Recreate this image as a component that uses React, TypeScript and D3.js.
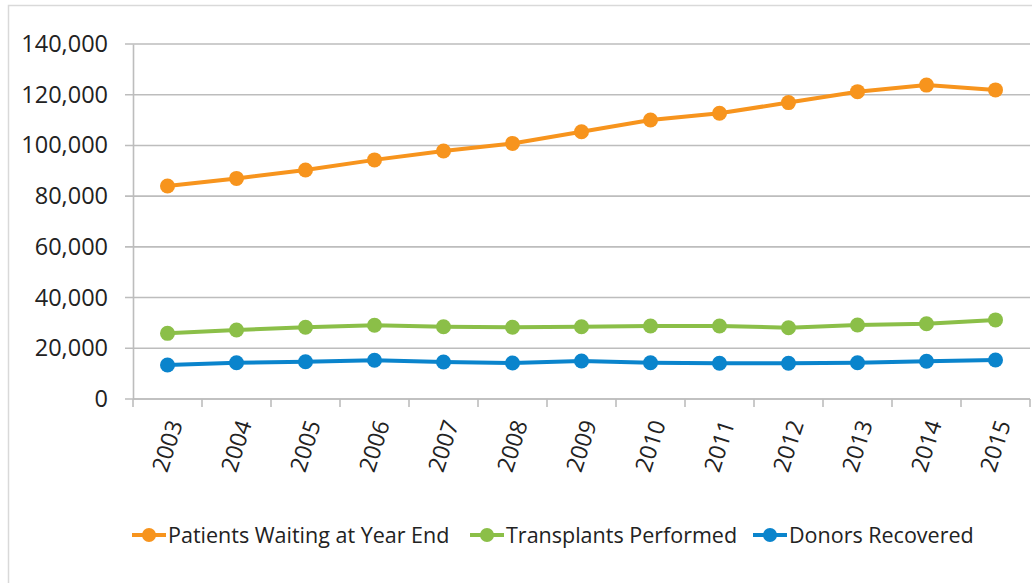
import React, { useEffect, useRef } from 'react'
import { select, scaleBand, scaleLinear, axisLeft, axisBottom, line } from 'd3'

const years = ['2003', '2004', '2005', '2006', '2007', '2008', '2009', '2010', '2011', '2012', '2013', '2014', '2015']
const waiting = [84000, 87000, 90300, 94300, 97800, 100800, 105400, 110000, 112700, 116900, 121200, 123800, 121900]
const transplants = [25900, 27200, 28300, 29100, 28500, 28300, 28500, 28800, 28800, 28100, 29200, 29700, 31200]
const donors = [13400, 14300, 14700, 15300, 14600, 14200, 15000, 14300, 14100, 14100, 14300, 14900, 15400]
const seriesNames = ['Patients Waiting at Year End', 'Transplants Performed', 'Donors Recovered']
const yTicks = [0, 20000, 40000, 60000, 80000, 100000, 120000, 140000]

const colors = ['#f7941d', '#8bbf48', '#0a84cc']
const font = '"Open Sans", Ubuntu, sans-serif'

function App() {
    const ref = useRef(null)

    useEffect(() => {
        const W = 1032, H = 583
        const margin = { top: 44, right: 2, bottom: 184, left: 133 }
        const svg = select(ref.current)
        svg.selectAll('*').remove()

        // frame
        svg.append('rect')
            .attr('x', 8.5).attr('y', 5.5)
            .attr('width', W).attr('height', H)
            .attr('fill', 'white')
            .attr('stroke', '#d9d9d9')
            .attr('stroke-width', 1.5)

        const g = svg.append('g')
            .attr('transform', `translate(${margin.left},${margin.top})`)
        const width = W - margin.left - margin.right
        const height = H - margin.top - margin.bottom

        const x = scaleBand().domain(years).range([0, width])
        const y = scaleLinear().domain([0, 140000]).range([height, 0])

        // gridlines
        g.append('g')
            .selectAll('line')
            .data(yTicks)
            .enter()
            .append('line')
            .attr('x1', -8).attr('x2', width)
            .attr('y1', d => y(d)).attr('y2', d => y(d))
            .attr('stroke', '#bdbdbd')
            .attr('stroke-width', 1.6)

        const yAxis = g.append('g')
            .call(axisLeft(y).tickValues(yTicks).tickSize(0).tickPadding(25)
                .tickFormat(d => Number(d).toLocaleString('en-US')))
        yAxis.select('.domain').attr('stroke', '#bdbdbd').attr('stroke-width', 1.6)
        yAxis.selectAll('text')
            .style('font-family', font)
            .style('font-size', '23.5px')
            .attr('fill', '#222')

        const xAxis = g.append('g')
            .attr('transform', `translate(0,${height})`)
            .call(axisBottom(x).tickSize(0).tickFormat(() => ''))
        xAxis.select('.domain').remove()
        xAxis.selectAll('text').remove()

        // band tick marks
        const edges = years.map(d => x(d)).concat([width])
        xAxis.selectAll('line.edge')
            .data(edges)
            .enter()
            .append('line')
            .attr('class', 'edge')
            .attr('x1', d => d).attr('x2', d => d)
            .attr('y1', 0).attr('y2', 8)
            .attr('stroke', '#bdbdbd')
            .attr('stroke-width', 1.6)
        xAxis.append('line')
            .attr('x1', 0).attr('x2', width)
            .attr('stroke', '#bdbdbd')
            .attr('stroke-width', 1.6)

        xAxis.selectAll('text.year')
            .data(years)
            .enter()
            .append('text')
            .attr('class', 'year')
            .attr('transform', d => `translate(${x(d) + x.bandwidth() / 2 + 8},22) rotate(-72)`)
            .attr('text-anchor', 'end')
            .attr('dy', '0.35em')
            .style('font-family', font)
            .style('font-size', '23px')
            .attr('fill', '#222')
            .text(d => d)

        const all = [waiting, transplants, donors]
        const lineGen = line().x((d, i) => x(years[i]) + x.bandwidth() / 2).y(d => y(d))

        all.forEach((vals, k) => {
            g.append('path')
                .datum(vals)
                .attr('d', lineGen)
                .attr('fill', 'none')
                .attr('stroke', colors[k])
                .attr('stroke-width', 4)
            g.selectAll('circle.s' + k)
                .data(vals)
                .enter()
                .append('circle')
                .attr('class', 's' + k)
                .attr('cx', (d, i) => x(years[i]) + x.bandwidth() / 2)
                .attr('cy', d => y(d))
                .attr('r', 7.5)
                .attr('fill', colors[k])
        })

        // legend
        const legendX = [132, 470, 753]
        const leg = svg.append('g').attr('transform', 'translate(0,535)')
        seriesNames.forEach((name, k) => {
            const item = leg.append('g').attr('transform', `translate(${legendX[k]},0)`)
            item.append('line')
                .attr('x1', 0).attr('x2', 34)
                .attr('stroke', colors[k]).attr('stroke-width', 4)
            item.append('circle')
                .attr('cx', 17).attr('r', 7)
                .attr('fill', colors[k])
            item.append('text')
                .attr('x', 36)
                .attr('dy', '0.35em')
                .style('font-family', font)
                .style('font-size', '21.5px')
                .attr('fill', '#222')
                .text(name)
        })
    }, [])

    return (
        <div style={{ position: 'absolute', left: 0, top: 0 }}>
            <svg ref={ref} width={1032} height={583} style={{ display: 'block' }}></svg>
        </div>
    )
}

export default App
